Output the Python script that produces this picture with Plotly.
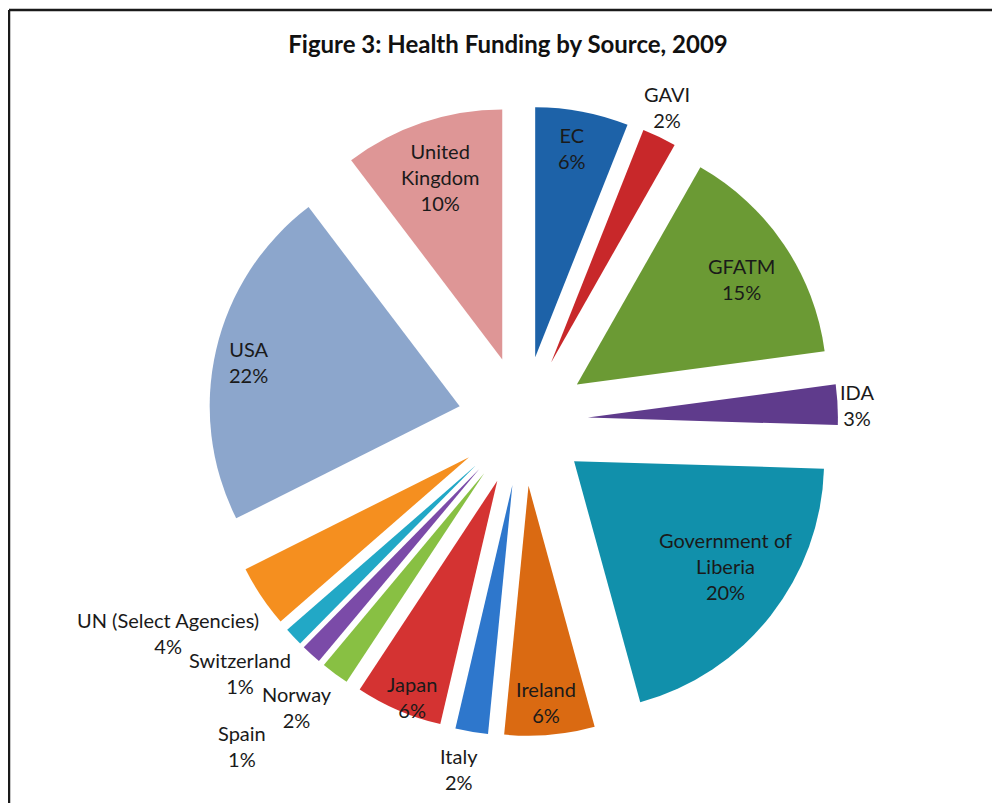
import math
import plotly.graph_objects as go

# ---- data ----
labels = ["EC", "GAVI", "GFATM", "IDA", "Government of<br>Liberia", "Ireland", "Italy",
          "Japan", "Norway", "Spain", "Switzerland", "UN (Select Agencies)", "USA",
          "United<br>Kingdom"]
values = [6.0, 2.2, 14.6, 2.6, 20.2, 5.8, 2.1, 5.6, 1.8, 1.3, 1.2, 4.0, 22.0, 10.3]

# ---- styles ----
colors = ["#1d62a8", "#c8282a", "#6b9a34", "#5f3b8c", "#1190ab", "#da6a12", "#2e77cc",
          "#d43332", "#88c043", "#7b4ba8", "#22a8c6", "#f58f1f", "#8ca6cc", "#de9696"]
# label distance from pie centre (fraction of radius) and small angular nudge (deg)
label_dist = [1.108, 1.38, 1.044, 1.336, 0.996, 1.128, 1.416, 1.188, 1.46, 1.716, 1.516,
              1.656, 1.124, 1.032]
label_nudge = [-0.6, -1.0, 1.0, 0.3, -2.7, 0.2, 1.0, -1.4, 1.7, -1.4, 1.5, 3.0, -1.0, -0.2]

W, H = 1000, 803
PULL = 0.26
dom_x = [0.200, 0.830]
dom_y = [0.0934, 0.878]

fig = go.Figure(go.Pie(
    labels=labels,
    values=values,
    sort=False,
    direction="clockwise",
    rotation=0,
    pull=[PULL] * len(values),
    marker=dict(colors=colors, line=dict(width=0)),
    textinfo="none",
    showlegend=False,
    automargin=False,
    hoverinfo="label+percent",
    domain=dict(x=dom_x, y=dom_y),
))

# label placement derived from the slice angles
total = sum(values)
R = min(W * (dom_x[1] - dom_x[0]), H * (dom_y[1] - dom_y[0])) / (2 * (1 + PULL))
cx = (dom_x[0] + dom_x[1]) / 2
cy = (dom_y[0] + dom_y[1]) / 2
annotations = []
cum = 0.0
for lab, v, d, nd in zip(labels, values, label_dist, label_nudge):
    mid = (cum + v / 2) / total * 360 + nd
    cum += v
    th = math.radians(mid)
    x = cx + d * R * math.sin(th) / W
    y = cy + d * R * math.cos(th) / H
    pct = round(v / total * 100)
    annotations.append(dict(
        x=x, y=y, xref="paper", yref="paper", xanchor="center", yanchor="middle",
        text=f"{lab}<br>{pct}%", showarrow=False, align="center",
        font=dict(family="Lato", size=20, color="#1a1a1a"),
    ))

fig.update_layout(
    width=W, height=H, autosize=False,
    margin=dict(l=0, r=0, t=0, b=0, pad=0, autoexpand=False),
    paper_bgcolor="white",
    title=dict(text="<b>Figure 3: Health Funding by Source, 2009</b>",
               x=0.5, xanchor="center", y=0.954, yanchor="middle",
               font=dict(family="Lato", size=24, color="#111111")),
    annotations=annotations,
    shapes=[
        dict(type="line", xref="paper", yref="paper", x0=0.001, x1=1.0, y0=1 - 2/803, y1=1 - 2/803,
             line=dict(color="#1a1a1a", width=2.5)),
        dict(type="line", xref="paper", yref="paper", x0=0.001, x1=0.001, y0=0, y1=1 - 2/803,
             line=dict(color="#1a1a1a", width=2.5)),
    ],
)

fig.write_html("out.html")
